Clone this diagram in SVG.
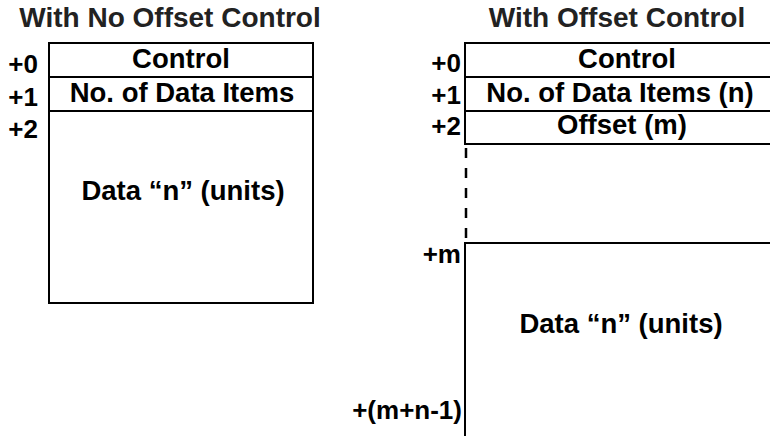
<svg xmlns="http://www.w3.org/2000/svg" width="770" height="436" viewBox="0 0 770 436">
<style>
text{font-family:"Liberation Sans",Arial,sans-serif;font-weight:bold;fill:#000}
.t{font-size:28px;fill:#222}
.c{font-size:27.5px;text-anchor:middle}
.l{font-size:26px;text-anchor:end}
.b{fill:none;stroke:#000;stroke-width:2}
</style>
<rect width="770" height="436" fill="#fff"/>
<g id="left">
<text class="t" x="170" y="27" text-anchor="middle">With No Offset Control</text>
<rect class="b" x="49" y="43" width="264" height="260"/>
<line class="b" x1="49" y1="77" x2="313" y2="77"/>
<line class="b" x1="49" y1="111" x2="313" y2="111"/>
<text class="c" x="181" y="68">Control</text>
<text class="c" x="182" y="102">No. of Data Items</text>
<text class="c" x="183" y="200">Data “n” (units)</text>
<text class="l" x="38" y="73">+0</text>
<text class="l" x="38" y="106">+1</text>
<text class="l" x="38" y="138">+2</text>
</g>
<g id="right">
<text class="t" x="617" y="27" text-anchor="middle">With Offset Control</text>
<polyline class="b" points="770,43 465,43 465,144 770,144"/>
<line class="b" x1="465" y1="77" x2="770" y2="77"/>
<line class="b" x1="465" y1="111" x2="770" y2="111"/>
<line x1="466" y1="148" x2="466" y2="246" stroke="#000" stroke-width="2.5" stroke-dasharray="10 10"/>
<polyline class="b" points="770,243 465,243 465,436"/>
<text class="c" x="627" y="68">Control</text>
<text class="c" x="620" y="102">No. of Data Items (n)</text>
<text class="c" x="622" y="134">Offset (m)</text>
<text class="c" x="621" y="333">Data “n” (units)</text>
<text class="l" x="461" y="72">+0</text>
<text class="l" x="461" y="104">+1</text>
<text class="l" x="461" y="135">+2</text>
<text class="l" x="461" y="263">+m</text>
<text class="l" x="462" y="419">+(m+n-1)</text>
</g>
</svg>
